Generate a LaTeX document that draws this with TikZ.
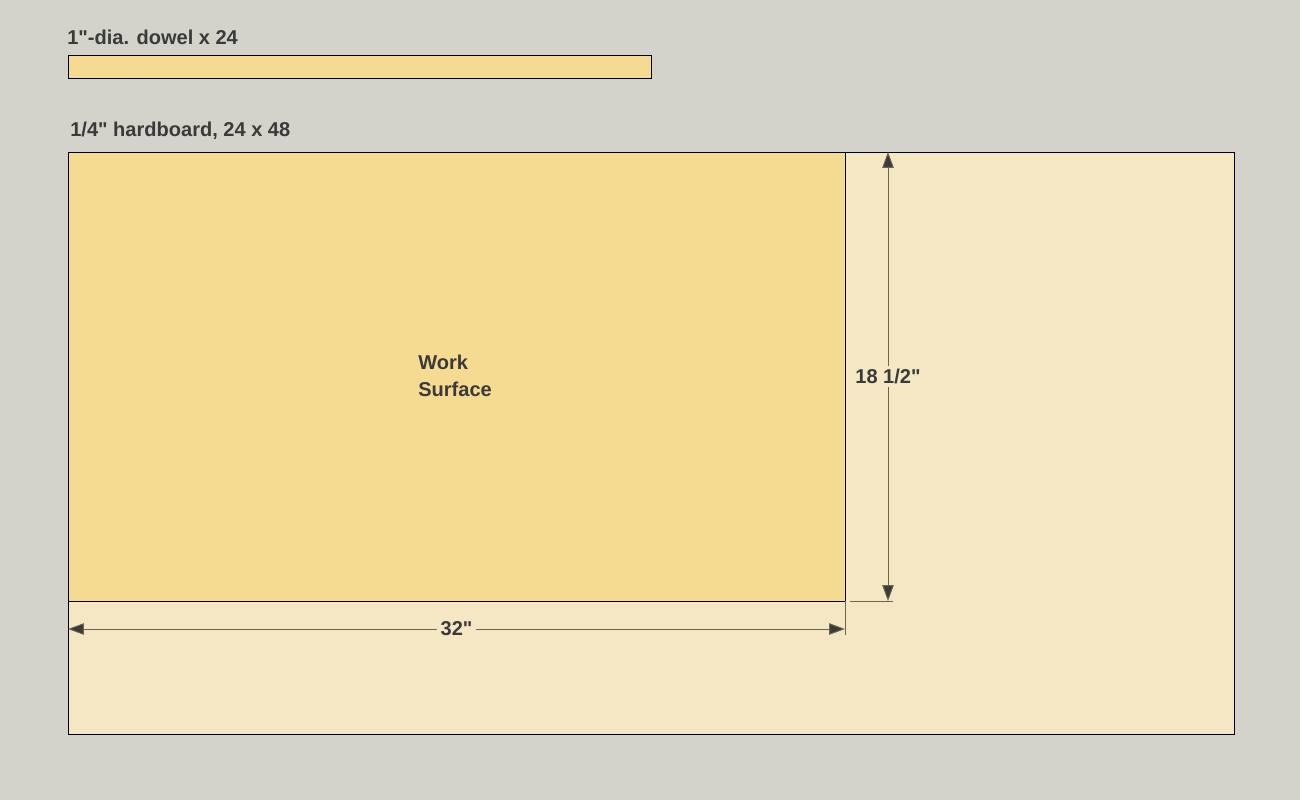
\documentclass[tikz,border=0pt]{standalone}
\usepackage{fontspec}
\setmainfont{Liberation Sans}[Ligatures=TeXOff]
\usetikzlibrary{arrows.meta}
\definecolor{bg}{HTML}{D3D3CB}
\definecolor{lightwood}{HTML}{F5E6C4}
\definecolor{wood}{HTML}{F5DA92}
\definecolor{txt}{HTML}{3A3A3A}
\definecolor{dimc}{HTML}{6E6452}
\tikzset{
  lbl/.style={font=\bfseries\fontsize{11.4}{13.6}\selectfont, text=txt, inner sep=0pt},
  part/.style={draw=black, line width=0.55pt},
  dimline/.style={draw=dimc, line width=0.5pt, {Triangle[length=9pt,width=6.5pt,fill=txt]}-{Triangle[length=9pt,width=6.5pt,fill=txt]}},
  extline/.style={draw=dimc, line width=0.5pt},
  dimlbl/.style={lbl, fill=lightwood, inner sep=2pt}
}
\begin{document}
\begin{tikzpicture}[x=0.02cm, y=-0.02cm]
\fill[bg] (0,0) rectangle (1300,800);
\useasboundingbox (0,0) rectangle (1300,800);
% dowel
\node[lbl, anchor=base west] (dowellbl) at (67,45) {1"-dia. dowel x 24};
\draw[part, fill=wood] (68,55) rectangle (651,78);
% hardboard
\node[lbl, anchor=base west] (hblbl) at (70,137) {1/4" hardboard, 24 x 48};
\draw[part, fill=lightwood] (68,152) rectangle (1234,734);
\draw[part, fill=wood, line width=0.4pt] (68,152) rectangle (845,601);
\node[lbl, align=left, anchor=north west] (ws) at (418,355) {Work\\[1.5pt]Surface};
% coordinates
\coordinate (vt) at (888,152);
\coordinate (vb) at (888,601);
\coordinate (hl) at (68,629);
\coordinate (hr) at (845,629);
\coordinate (e1a) at (850,601);
\coordinate (e1b) at (893,601);
\coordinate (e2a) at (845,601);
\coordinate (e2b) at (845,635);
\draw[extline] (e1a) -- (e1b);
\draw[extline] (e2a) -- (e2b);
\draw[dimline] (vt) -- node[dimlbl] (d1) {18 1/2"} (vb);
\draw[dimline] (hl) -- node[dimlbl, pos=0.5] (d2) {32"} (hr);
\end{tikzpicture}
\end{document}
